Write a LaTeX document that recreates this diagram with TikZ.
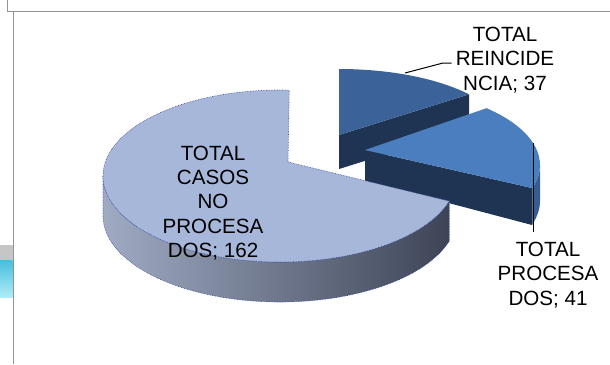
\documentclass[tikz,border=0pt]{standalone}
\usepackage{fontspec}
\setmainfont{Liberation Sans}
\usetikzlibrary{calc}
\definecolor{topmain}{HTML}{A7B7D9}
\definecolor{sideleft}{HTML}{A0ABC3}
\definecolor{sideright}{HTML}{3D4456}
\definecolor{topreinc}{HTML}{3C6399}
\definecolor{topproc}{HTML}{4A7EBF}
\definecolor{cutface}{HTML}{1F3352}
\definecolor{wallproc}{HTML}{375C92}
\definecolor{rimline}{HTML}{3A4A9C}

\begin{document}
\begin{tikzpicture}
    [x=1pt, y=-1pt, every node/.style = {font=\fontsize{20.6}{24.2}\selectfont, align=center, inner sep=0pt},
     frame/.style = {draw=gray!85, line width=1pt},
     lead/.style = {draw=black, line width=1pt},
     rim/.style = {draw=rimline, densely dotted, line width=.6pt}]
    \useasboundingbox (0,0) rectangle (610,364);
    % frame
    \draw[frame] (7,0) -- (7,11) -- (610,11);
    \draw[frame] (13,11) -- (13,364);
    \fill[gray!45] (0,245) rectangle (12.5,260);
    \shade[top color={rgb,255:red,70;green,190;blue,222}, bottom color={rgb,255:red,175;green,236;blue,246}] (0,260) rectangle (12.5,297);
    % slice 37
    \coordinate (c37) at (339,135);
    \fill[cutface] (c37) -- ($(c37)+(-38:165 and 66)$) -- ++(0,34) -- ($(c37)+(0,34)$) -- cycle;
    \fill[topreinc] (c37) -- ($(c37)+(-90:165 and 66)$) arc[start angle=-90, end angle=-38, x radius=165, y radius=66] -- cycle;
    % slice 41
    \coordinate (a41) at (365,150);
    \coordinate (c41) at (365,165);
    \fill[wallproc] ($(c41)+(0:175 and 79)$) arc[start angle=0, end angle=17, x radius=175, y radius=79] -- ++(0,36) arc[start angle=17, end angle=0, x radius=175, y radius=79] -- cycle;
    \fill[cutface] (a41) -- ($(c41)+(17:175 and 79)$) -- ++(0,37) -- ($(a41)+(0,31)$) -- cycle;
    \fill[topproc] (a41) -- ($(c41)+(-46:175 and 79)$) arc[start angle=-46, end angle=17, x radius=175, y radius=79] -- cycle;
    % slice 162
    \coordinate (am) at (288,162);
    \coordinate (cm) at (280,176);
    \shade[left color=sideleft, right color=sideright, rim] ($(cm)+(180:177 and 86)$) arc[start angle=180, end angle=17, x radius=177, y radius=86] -- ++(0,40) arc[start angle=17, end angle=180, x radius=177, y radius=86] -- cycle;
    \fill[topmain, rim] (am) -- ($(cm)+(-87:177 and 86)$) arc[start angle=-87, end angle=-343, x radius=177, y radius=86] -- cycle;
    % labels
    \node (lmain) at (213,203) {TOTAL\\CASOS\\NO\\PROCESA\\DOS; 162};
    \node (l37) at (505,60) {TOTAL\\REINCIDE\\NCIA; 37};
    \node (l41) at (548,275) {TOTAL\\PROCESA\\DOS; 41};
    \coordinate (p37) at (405,73);
    \coordinate (p41) at (533,143);
    \draw[lead] (p37) -- ++(38,-10) -- ($(l37.west)+(-4,3)$);
    \draw[lead] (p41) -- ($(l41.north -| p41)+(0,-10)$);
\end{tikzpicture}
\end{document}
